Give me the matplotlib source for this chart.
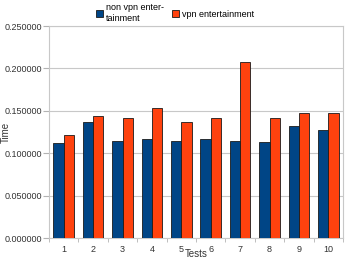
import matplotlib
matplotlib.use("Agg")
import matplotlib.pyplot as plt
import numpy as np
from matplotlib.ticker import FormatStrFormatter

tests = ["1", "2", "3", "4", "5", "6", "7", "8", "9", "10"]
non_vpn = [0.112, 0.137, 0.114, 0.117, 0.114, 0.117, 0.114, 0.113, 0.132, 0.127]
vpn = [0.1215, 0.144, 0.142, 0.153, 0.137, 0.141, 0.208, 0.142, 0.147, 0.147]
yticks = [0.0, 0.05, 0.10, 0.15, 0.20, 0.25]

plt.rcParams['font.family'] = ['Liberation Sans', 'DejaVu Sans']
fig = plt.figure(figsize=(3.47, 2.59), dpi=100)
ax = fig.add_axes([49/347, 21/259, 294/347, 212/259])
x = np.arange(len(tests))
w = 0.35
ax.bar(x - w/2, non_vpn, w, color='#004586', edgecolor='#1a1a1a', linewidth=0.6, label='non vpn enter-\ntainment', zorder=3)
ax.bar(x + w/2, vpn, w, color='#ff420e', edgecolor='#1a1a1a', linewidth=0.6, label='vpn entertainment', zorder=3)
ax.set_xlim(-0.5, len(tests) - 0.5)
ax.set_ylim(0, 0.25)
ax.set_yticks(yticks)
ax.yaxis.set_major_formatter(FormatStrFormatter('%.6f'))
ax.set_xticks(x)
ax.set_xticklabels(tests)
ax.tick_params(axis='both', labelsize=6.5, length=3, color='#b3b3b3', colors='#333333')
ax.tick_params(axis='y', length=4, pad=1)
ax.set_xticks(np.arange(-0.5, len(tests)), minor=True)
ax.tick_params(axis='x', which='major', length=0, pad=5)
ax.tick_params(axis='x', which='minor', length=3, color='#b3b3b3')
ax.grid(axis='y', color='#c8c8c8', linewidth=0.8, zorder=0)
for s in ax.spines.values():
    s.set_color('#c8c8c8')
    s.set_linewidth(0.8)
ax.set_ylabel('Time', fontsize=7, color='#333333')
ax.yaxis.set_label_coords(-38/294, 0.5)
ax.set_xlabel('Tests', fontsize=7, color='#333333')
ax.xaxis.set_label_coords(0.5, -11/212)
leg = fig.legend(loc='upper center', bbox_to_anchor=(0.505, 1.01), ncol=2, fontsize=6.5, frameon=False,
                 handlelength=0.8, handleheight=0.8, handletextpad=0.3, columnspacing=0.9, borderpad=0.1)
for t in leg.get_texts():
    t.set_linespacing(1.35)
fig.savefig('out.png', dpi=100)
